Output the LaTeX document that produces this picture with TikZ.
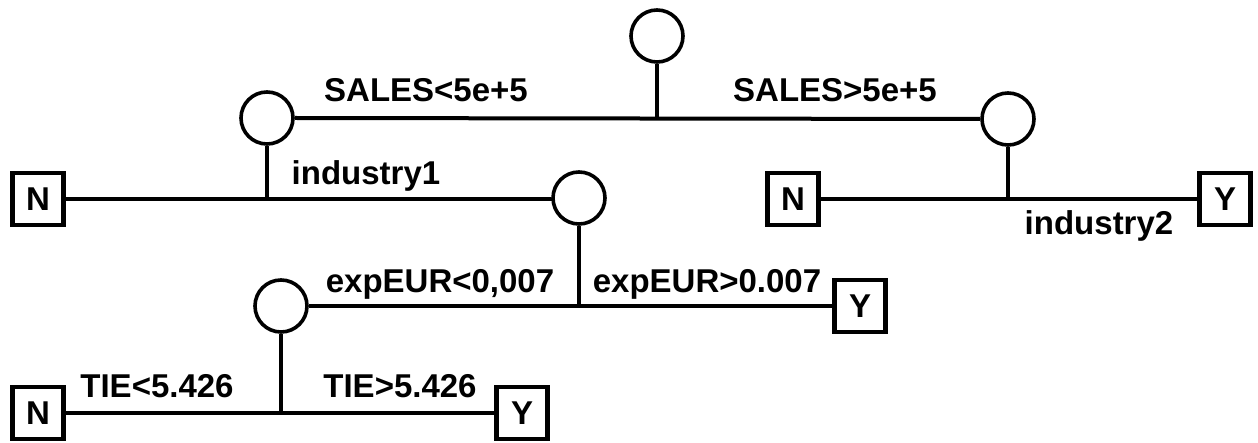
\documentclass[tikz,border=0pt]{standalone}
\usepackage{fontspec}
\setmainfont{Liberation Sans}
\begin{document}
\begin{tikzpicture}[x=1pt,y=-1pt,
  chance/.style={circle,draw,line width=3.6pt,minimum size=52pt,inner sep=0pt},
  leaf/.style={rectangle,draw,line width=4.2pt,minimum width=51pt,minimum height=52pt,inner sep=0pt,font=\fontsize{33}{36}\selectfont\bfseries},
  lbl/.style={anchor=base,inner sep=0pt,font=\fontsize{33}{36}\selectfont\bfseries},
  branch/.style={line width=4pt}]
\useasboundingbox (0,0) rectangle (1258,443);
% decision points
\node[chance] (C1) at (657,36) {};
\node[chance] (C2) at (267,118) {};
\node[chance] (C3) at (1008,119) {};
\node[chance] (C4) at (579,198) {};
\node[chance] (C5) at (281,306) {};
% leaves
\node[leaf] (NA) at (38,199) {N};
\node[leaf] (NB) at (793,199) {N};
\node[leaf] (YB) at (1225,199) {Y};
\node[leaf] (YC) at (860,306) {Y};
\node[leaf] (ND) at (38,413) {N};
\node[leaf] (YD) at (522,413) {Y};
% connectors
\draw[branch] (C2.east) -- (C3.west);
\draw[branch] (C1.south) -- (C1 |- C2.east);
\draw[branch] (NA.east) -- (NA -| C4.west) -- (C4.west);
\draw[branch] (C2.south) -- (C2 |- NA.east);
\draw[branch] (NB.east) -- (YB.west);
\draw[branch] (C3.south) -- (C3 |- NB.east);
\draw[branch] (C5.east) -- (YC.west);
\draw[branch] (C4.south) -- (C4 |- YC.west);
\draw[branch] (ND.east) -- (YD.west);
\draw[branch] (C5.south) -- (C5 |- ND.east);
% labels
\node[lbl] (l1) at (426,102) {SALES<5e+5};
\node[lbl] (l2) at (835,102) {SALES>5e+5};
\node[lbl] (l3) at (366,185) {industry1};
\node[lbl] (l4) at (1099,235) {industry2};
\node[lbl] (l5) at (440,293) {expEUR<0,007};
\node[lbl] (l6) at (707,293) {expEUR>0.007};
\node[lbl] (l7) at (157,397) {TIE<5.426};
\node[lbl] (l8) at (400,397) {TIE>5.426};
\end{tikzpicture}
\end{document}
